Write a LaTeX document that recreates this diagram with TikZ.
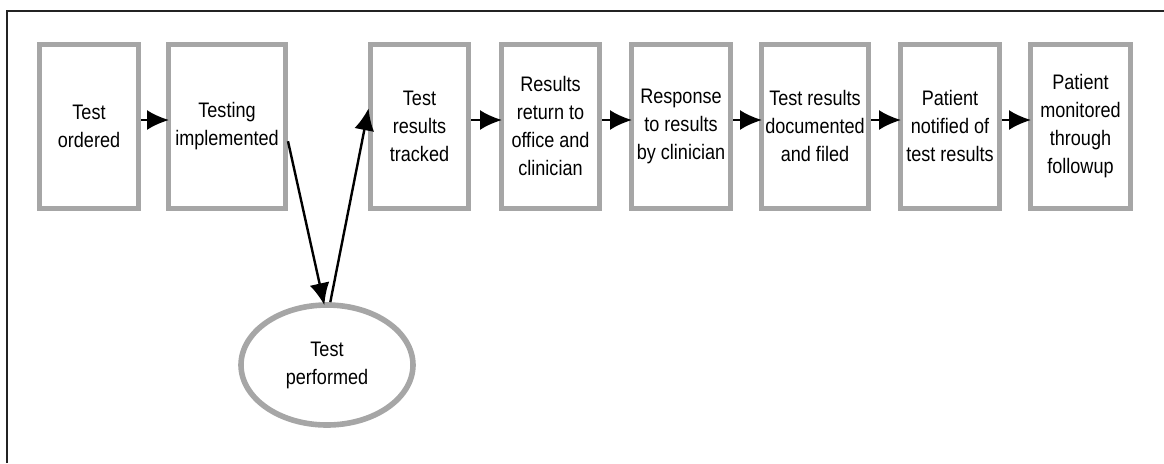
\documentclass[tikz,border=0pt]{standalone}
\usepackage{fontspec}
\setmainfont{Liberation Sans}[FakeStretch=0.86]
\usetikzlibrary{arrows.meta,shapes.geometric}

\definecolor{boxgray}{RGB}{166,166,166}
\definecolor{framegray}{RGB}{35,35,35}

\begin{document}
\begin{tikzpicture}[x=0.5pt, y=-0.5pt,
    stepbox/.style={draw=boxgray, line width=2.5pt, fill=white, align=center,
      inner sep=1pt, minimum height=82pt, font=\fontsize{10.5}{14}\selectfont},
    stepoval/.style={draw=boxgray, line width=2.8pt, ellipse, align=center,
      minimum width=86pt, minimum height=60pt, font=\fontsize{10.5}{14}\selectfont},
    arr/.style={-{Latex[length=11pt,width=10pt]}, line width=1.2pt, shorten >=-1.5pt}]

        \useasboundingbox (0,0) rectangle (1164,463);

        \draw[framegray, line width=1.2pt] (7,463) -- (7,11) -- (1164,11);

        \node[stepbox, minimum width=49.5pt] (ordered) at (89,126) {Test\\ordered};
        \node[stepbox, minimum width=58.5pt] (impl) at (227,126) {Testing\\implemented};
        \node[stepbox, minimum width=49pt] (track) at (419.5,126) {Test\\results\\tracked};
        \node[stepbox, minimum width=49pt] (ret) at (550.5,126) {Results\\return to\\office and\\clinician};
        \node[stepbox, minimum width=49.5pt] (resp) at (681,126) {Response\\to results\\by clinician};
        \node[stepbox, minimum width=53.5pt] (doc) at (815,126) {Test results\\documented\\and filed};
        \node[stepbox, minimum width=49.5pt] (notif) at (950,126) {Patient\\notified of\\test results};
        \node[stepbox, minimum width=50pt] (monit) at (1080.5,126) {Patient\\monitored\\through\\followup};

        \node[stepoval] (perf) at (327,365) {Test\\performed};

        \draw[arr] ([yshift=3pt]ordered.east) -- ([yshift=3pt]impl.west);
        \draw[arr] (impl.-14) -- (perf.93);
        \draw[arr] (perf.87) -- (track.164);
        \draw[arr] ([yshift=3pt]track.east) -- ([yshift=3pt]ret.west);
        \draw[arr] ([yshift=3pt]ret.east) -- ([yshift=3pt]resp.west);
        \draw[arr] ([yshift=3pt]resp.east) -- ([yshift=3pt]doc.west);
        \draw[arr] ([yshift=3pt]doc.east) -- ([yshift=3pt]notif.west);
        \draw[arr] ([yshift=3pt]notif.east) -- ([yshift=3pt]monit.west);

\end{tikzpicture}
\end{document}
